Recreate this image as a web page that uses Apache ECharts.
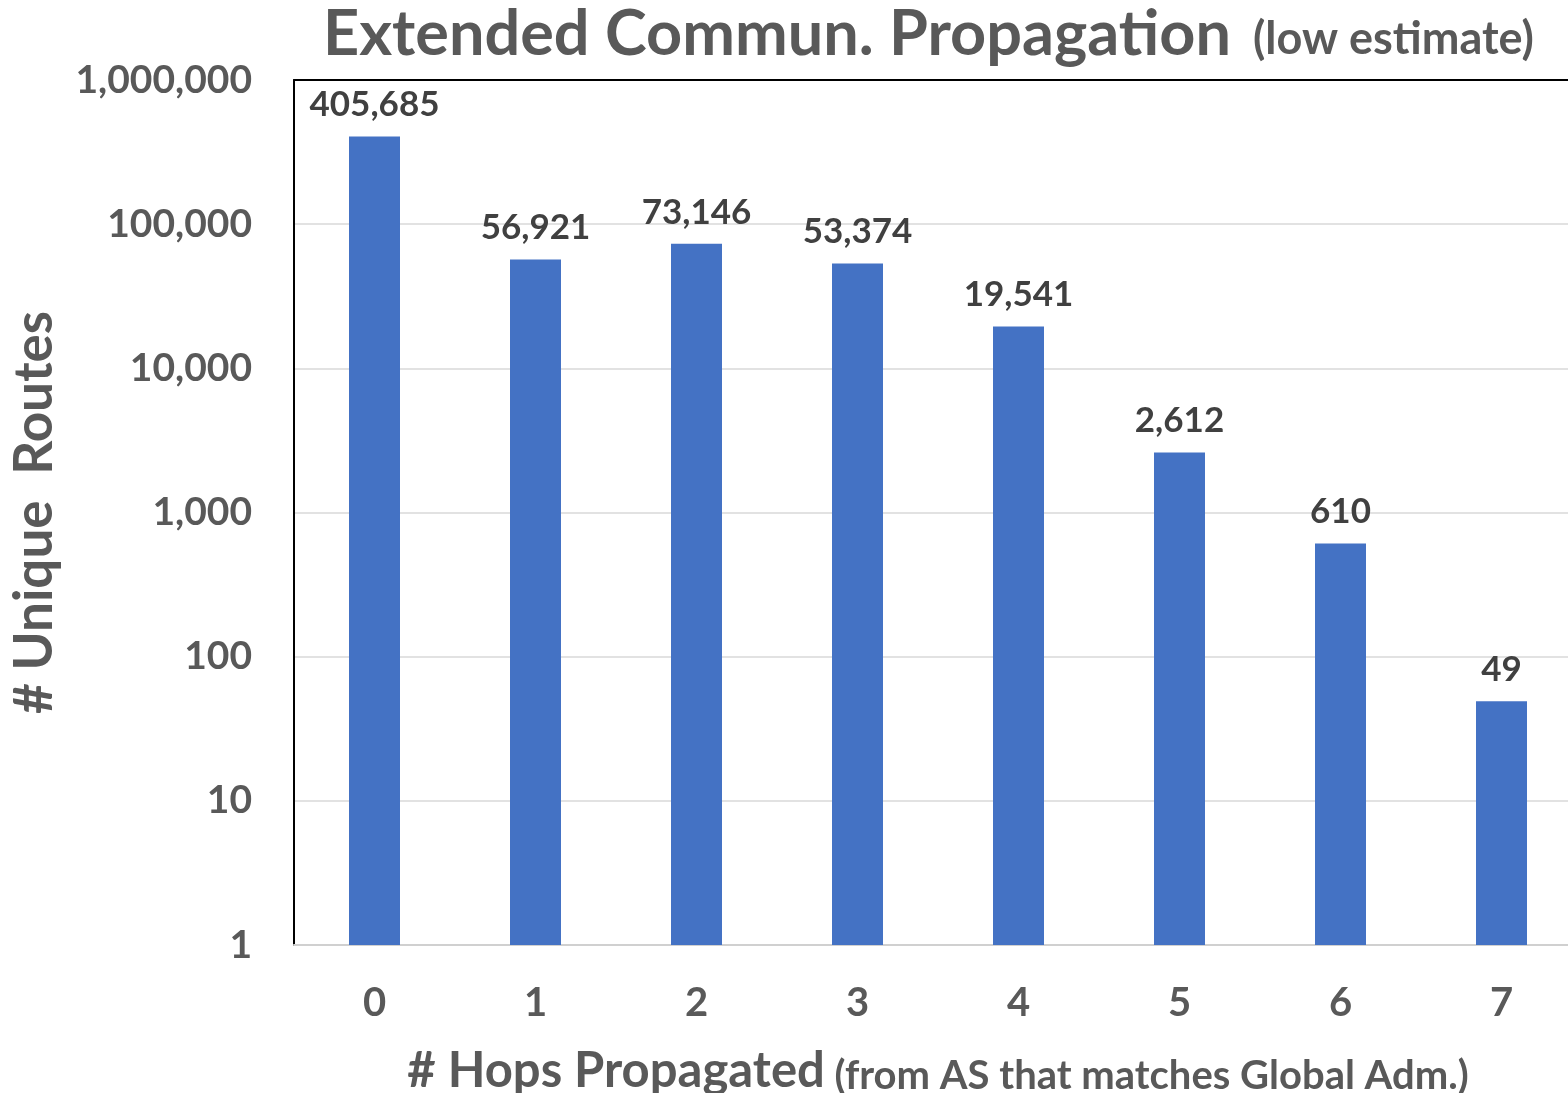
<!DOCTYPE html>
<html><head><meta charset="utf-8">
<script src="https://cdn.jsdelivr.net/npm/echarts@6/dist/echarts.min.js"></script>
<style>html,body{margin:0;padding:0;background:#fff;overflow:hidden}#c{width:1568px;height:1093px}</style>
</head><body><div id="c"></div>
<script>
const categories = ['0','1','2','3','4','5','6','7'];
const routes = [405685, 56921, 73146, 53374, 19541, 2612, 610, 49];
const yMin = 1, yMax = 1000000;

const FONT = 'Lato';
const GRAY = '#595959';
const chart = echarts.init(document.getElementById('c'), null, {renderer:'canvas'});
chart.setOption({
  backgroundColor: '#fff',
  animation: false,
  title: {
    left: 318, top: -2,
    text: '{a|Extended Commun. Propagation}{b|  (low estimate)}',
    textStyle: {
      rich: {
        a: {fontFamily: FONT, fontWeight: 'bold', fontSize: 63, color: GRAY},
        b: {fontFamily: FONT, fontWeight: 'bold', fontSize: 45, color: GRAY, verticalAlign: 'bottom', padding:[0,0,4,0]}
      }
    }
  },
  grid: {left: 294, top: 80, width: 1288, height: 865, containLabel: false, outerBoundsMode: 'none'},
  xAxis: [{
    type: 'category', data: categories, position: 'bottom',
    axisLine: {show: true, lineStyle: {color: '#d0d0d0', width: 2}},
    axisTick: {show: false},
    axisLabel: {fontFamily: FONT, fontWeight: 'bold', fontSize: 40, color: GRAY, margin: 38},
    name: '{a|# Hops Propagated}{b| (from AS that matches Global Adm.)}',
    nameLocation: 'middle', nameGap: 102,
    nameTextStyle: {
      rich: {
        a: {fontFamily: FONT, fontWeight: 'bold', fontSize: 49, color: GRAY},
        b: {fontFamily: FONT, fontWeight: 'bold', fontSize: 40, color: GRAY, verticalAlign: 'bottom'}
      }
    }
  }, {
    type: 'category', data: categories, position: 'top',
    axisLine: {show: true, lineStyle: {color: '#000', width: 2}},
    axisTick: {show: false}, axisLabel: {show: false}
  }],
  yAxis: {
    type: 'log', logBase: 10, min: yMin, max: yMax,
    axisLine: {show: true, lineStyle: {color: '#000', width: 2}},
    axisTick: {show: false},
    splitLine: {show: true, lineStyle: {color: '#d9d9d9', width: 1.5}},
    axisLabel: {
      fontFamily: FONT, fontWeight: 'bold', fontSize: 39, color: GRAY, margin: 42,
      formatter: v => Math.round(v).toLocaleString('en-US')
    },
    name: '# Unique  Routes', nameLocation: 'middle', nameGap: 233,
    nameTextStyle: {fontFamily: FONT, fontWeight: 'bold', fontSize: 53, color: GRAY}
  },
  series: [{
    type: 'bar', data: routes, barWidth: 51, xAxisIndex: 0,
    itemStyle: {color: '#4472c4'},
    label: {
      show: true, position: 'top', distance: 14,
      fontFamily: FONT, fontWeight: 'bold', fontSize: 35, color: '#404040',
      formatter: p => p.value.toLocaleString('en-US')
    }
  }]
});
</script></body></html>
